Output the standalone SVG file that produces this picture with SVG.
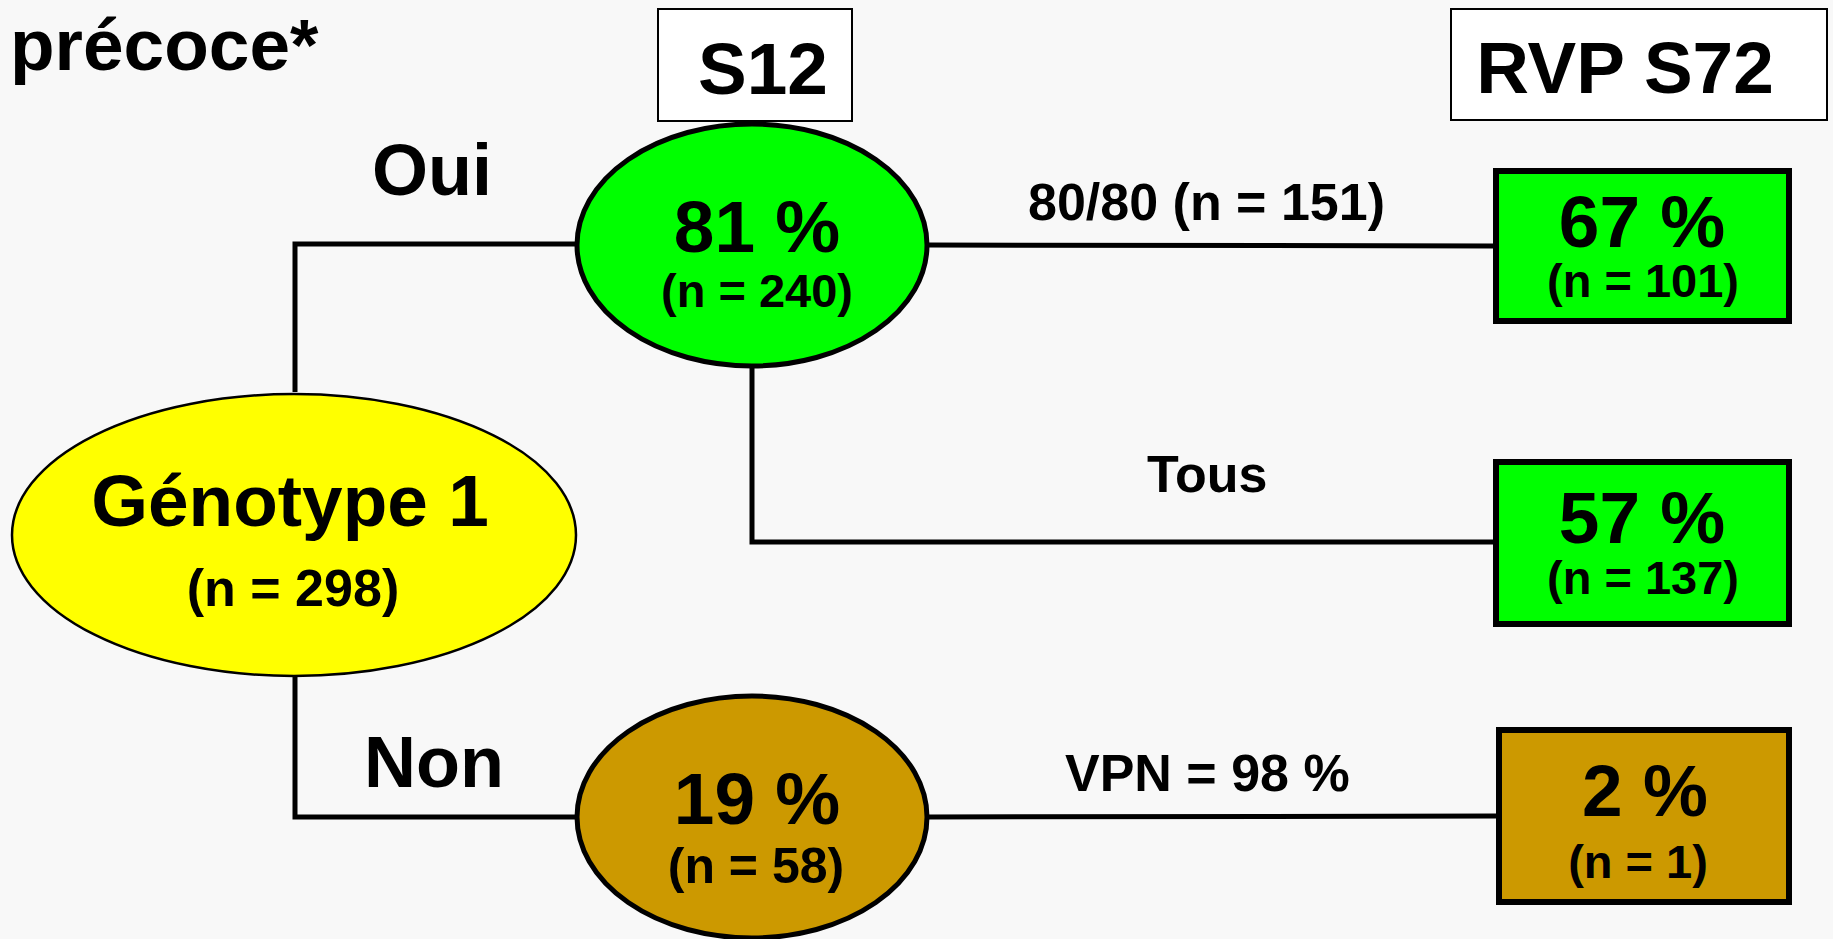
<svg xmlns="http://www.w3.org/2000/svg" width="1833" height="939" viewBox="0 0 1833 939">
<style>
text{font-family:"Liberation Sans",Arial,sans-serif;font-weight:bold;fill:#000}
.big{font-size:73px;text-anchor:middle}
.n{font-size:47px;text-anchor:middle}
.lab{font-size:52px}
.conn{fill:none;stroke:#000;stroke-width:5}
.hdr{fill:#fff;stroke:#000;stroke-width:2}
.box{stroke:#000;stroke-width:6}
.ell{stroke:#000;stroke-width:5}
</style>
<rect x="0" y="0" width="1833" height="939" fill="#f8f8f8"/>
<text x="10" y="70" style="font-size:73px">précoce*</text>
<g id="hdr-s12"><rect class="hdr" x="658" y="9" width="194" height="112"/><text class="big" x="763" y="94">S12</text></g>
<g id="hdr-rvp"><rect class="hdr" x="1451" y="9" width="376" height="111"/><text class="big" x="1625" y="93">RVP S72</text></g>
<g id="connectors">
<polyline class="conn" points="295,392 295,244 578,244"/>
<polyline class="conn" points="295,676 295,817 578,817"/>
<line class="conn" x1="928" y1="245" x2="1494" y2="246"/>
<polyline class="conn" points="752,366 752,542 1494,542"/>
<line class="conn" x1="928" y1="817" x2="1496" y2="816"/>
<text class="lab" x="372" y="195" style="font-size:72px">Oui</text>
<text class="lab" x="364" y="787" style="font-size:72px">Non</text>
<text class="lab" x="1028" y="220">80/80 (n = 151)</text>
<text class="lab" x="1147" y="492">Tous</text>
<text class="lab" x="1065" y="791">VPN = 98 %</text>
</g>
<g id="genotype"><ellipse cx="294" cy="535" rx="282" ry="141" fill="#ffff00" stroke="#000" stroke-width="2.5"/><text class="big" x="290" y="526">Génotype 1</text><text class="n" x="293" y="606" style="font-size:52px">(n = 298)</text></g>
<g id="s12-oui"><ellipse class="ell" cx="752" cy="245" rx="175" ry="121" fill="#00ff00"/><text class="big" x="757" y="252">81 %</text><text class="n" x="757" y="307">(n = 240)</text></g>
<g id="s12-non"><ellipse class="ell" cx="752" cy="817" rx="175" ry="121" fill="#cc9900"/><text class="big" x="757" y="824">19 %</text><text class="n" x="756" y="883" style="font-size:50px">(n = 58)</text></g>
<g id="r-8080"><rect class="box" x="1496" y="171" width="293" height="150" fill="#00ff00"/><text class="big" x="1642" y="247">67 %</text><text class="n" x="1643" y="297">(n = 101)</text></g>
<g id="r-tous"><rect class="box" x="1496" y="462" width="293" height="162" fill="#00ff00"/><text class="big" x="1642" y="543">57 %</text><text class="n" x="1643" y="594">(n = 137)</text></g>
<g id="r-vpn"><rect class="box" x="1499" y="730" width="290" height="172" fill="#cc9900"/><text class="big" x="1645" y="816">2 %</text><text class="n" x="1638" y="878">(n = 1)</text></g>
</svg>
